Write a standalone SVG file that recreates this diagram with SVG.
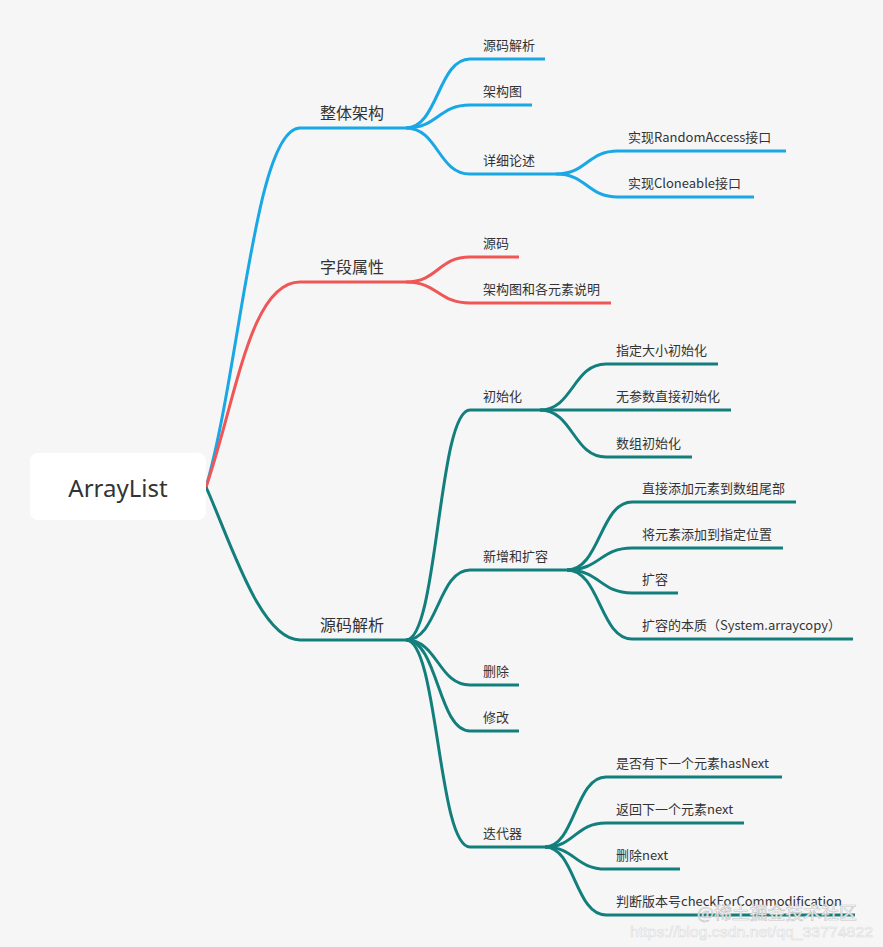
<svg xmlns="http://www.w3.org/2000/svg" width="883" height="947" viewBox="0 0 883 947">
<style>
  .bg{fill:#f6f6f7}
  text{font-family:"Noto Sans CJK SC","Noto Sans",sans-serif;fill:#333}
  .l1{font-size:16px}
  .l2{font-size:13px}
  .root{font-family:"Noto Sans","Noto Sans CJK SC",sans-serif;font-size:24px;text-anchor:middle;dominant-baseline:central}
  path{fill:none;stroke-width:3;stroke-linejoin:round}
  .b path,path.b{stroke:#1aa7e6}
  .r path,path.r{stroke:#ef5656}
  .t path,path.t{stroke:#137f7d}
  .wm{font-family:"Noto Sans CJK SC","Liberation Sans",sans-serif;fill:#ffffff;stroke:#c4c4c4;stroke-width:0.6}
  .wm2{font-family:"Liberation Sans","Noto Sans",sans-serif;fill:#ffffff;stroke:#dcdcdc;stroke-width:0.6}
</style>
<rect class="bg" x="0" y="0" width="883" height="947"/>

<g id="connectors">
  <path class="b" d="M206,487 C240,370 255,128 300,128"/>
  <path class="r" d="M206,487 C236,400 250,282 300,282"/>
  <path class="t" d="M206,487 C230,540 260,640 300,640"/>
  <!-- 整体架构 -->
  <path class="b" d="M406,128 C438,128 438,59 470,59"/>
  <path class="b" d="M406,128 C438,128 438,105 470,105"/>
  <path class="b" d="M406,128 C438,128 438,174 470,174"/>
  <path class="b" d="M556,174 C587,174 587,151 618,151"/>
  <path class="b" d="M556,174 C587,174 587,197 618,197"/>
  <!-- 字段属性 -->
  <path class="r" d="M406,282 C438,282 438,257 470,257"/>
  <path class="r" d="M406,282 C438,282 438,303 470,303"/>
  <!-- 源码解析 -->
  <path class="t" d="M406,640 C438,640 438,410 470,410"/>
  <path class="t" d="M406,640 C438,640 438,570 470,570"/>
  <path class="t" d="M406,640 C438,640 438,685 470,685"/>
  <path class="t" d="M406,640 C438,640 438,731 470,731"/>
  <path class="t" d="M406,640 C438,640 438,847 470,847"/>
  <path class="t" d="M540,410 C573,410 573,364 606,364"/>
  <path class="t" d="M540,410 L606,410"/>
  <path class="t" d="M540,410 C573,410 573,457 606,457"/>
  <path class="t" d="M567,570 C600,570 600,502 632,502"/>
  <path class="t" d="M567,570 C600,570 600,548 632,548"/>
  <path class="t" d="M567,570 C600,570 600,593 632,593"/>
  <path class="t" d="M567,570 C600,570 600,639 632,639"/>
  <path class="t" d="M545,847 C575,847 575,777 606,777"/>
  <path class="t" d="M545,847 C575,847 575,823 606,823"/>
  <path class="t" d="M545,847 C575,847 575,869 606,869"/>
  <path class="t" d="M545,847 C575,847 575,915 606,915"/>
</g>

<g id="root">
  <rect x="30" y="453" width="176" height="67" rx="8" fill="#ffffff"/>
  <text class="root" x="118" y="487">ArrayList</text>
</g>

<g id="n-zhengti" class="b"><path d="M300,128 H406"/><text class="l1" x="320" y="119">整体架构</text></g>
<g id="n-yuanma1" class="b"><path d="M470,59 H545"/><text class="l2" x="483" y="50">源码解析</text></g>
<g id="n-jiagoutu" class="b"><path d="M470,105 H532"/><text class="l2" x="483" y="96">架构图</text></g>
<g id="n-xiangxi" class="b"><path d="M470,174 H556"/><text class="l2" x="483" y="165">详细论述</text></g>
<g id="n-random" class="b"><path d="M618,151 H786"/><text class="l2" x="628" y="142">实现RandomAccess接口</text></g>
<g id="n-clone" class="b"><path d="M618,197 H754"/><text class="l2" x="628" y="188">实现Cloneable接口</text></g>

<g id="n-ziduan" class="r"><path d="M300,282 H406"/><text class="l1" x="320" y="273">字段属性</text></g>
<g id="n-yuanma2" class="r"><path d="M470,257 H519"/><text class="l2" x="483" y="248">源码</text></g>
<g id="n-jiagoushuoming" class="r"><path d="M470,303 H611"/><text class="l2" x="483" y="294">架构图和各元素说明</text></g>

<g id="n-yuanmajiexi" class="t"><path d="M300,640 H406"/><text class="l1" x="320" y="631">源码解析</text></g>
<g id="n-init" class="t"><path d="M470,410 H540"/><text class="l2" x="483" y="401">初始化</text></g>
<g id="n-init1" class="t"><path d="M606,364 H718"/><text class="l2" x="616" y="355">指定大小初始化</text></g>
<g id="n-init2" class="t"><path d="M606,410 H731"/><text class="l2" x="616" y="401">无参数直接初始化</text></g>
<g id="n-init3" class="t"><path d="M606,457 H692"/><text class="l2" x="616" y="448">数组初始化</text></g>
<g id="n-add" class="t"><path d="M470,570 H567"/><text class="l2" x="483" y="561">新增和扩容</text></g>
<g id="n-add1" class="t"><path d="M632,502 H796"/><text class="l2" x="642" y="493">直接添加元素到数组尾部</text></g>
<g id="n-add2" class="t"><path d="M632,548 H783"/><text class="l2" x="642" y="539">将元素添加到指定位置</text></g>
<g id="n-add3" class="t"><path d="M632,593 H678"/><text class="l2" x="642" y="584">扩容</text></g>
<g id="n-add4" class="t"><path d="M632,639 H853"/><text class="l2" x="642" y="630">扩容的本质（System.arraycopy）</text></g>
<g id="n-del" class="t"><path d="M470,685 H519"/><text class="l2" x="483" y="676">删除</text></g>
<g id="n-mod" class="t"><path d="M470,731 H519"/><text class="l2" x="483" y="722">修改</text></g>
<g id="n-iter" class="t"><path d="M470,847 H545"/><text class="l2" x="483" y="838">迭代器</text></g>
<g id="n-iter1" class="t"><path d="M606,777 H782"/><text class="l2" x="616" y="768">是否有下一个元素hasNext</text></g>
<g id="n-iter2" class="t"><path d="M606,823 H744"/><text class="l2" x="616" y="814">返回下一个元素next</text></g>
<g id="n-iter3" class="t"><path d="M606,869 H680"/><text class="l2" x="616" y="860">删除next</text></g>
<g id="n-iter4" class="t"><path d="M606,915 H855"/><text class="l2" x="616" y="906">判断版本号checkForCommodification</text></g>

<text class="wm" x="697" y="919" font-size="17" textLength="160" lengthAdjust="spacingAndGlyphs">@稀土掘金技术社区</text>
<text class="wm2" x="630" y="937" font-size="15" textLength="243" lengthAdjust="spacingAndGlyphs">https://blog.csdn.net/qq_33774822</text>
</svg>
